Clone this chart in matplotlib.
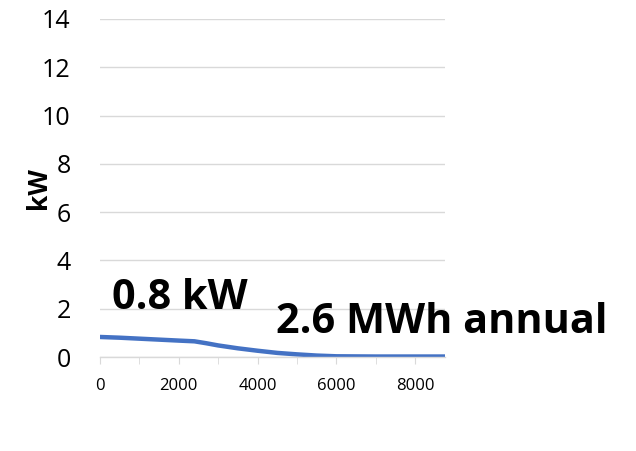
import matplotlib
matplotlib.use("Agg")
import matplotlib.pyplot as plt
from matplotlib.ticker import MultipleLocator

# Hourly load profile through the year (hour of year, kW)
hours = [0, 500, 1000, 1500, 2000, 2400, 2700, 3000, 3500, 4000, 4500, 5000, 5500, 6000, 7000, 8000, 8760]
load_kw = [0.83, 0.80, 0.76, 0.72, 0.68, 0.65, 0.57, 0.48, 0.36, 0.26, 0.17, 0.11, 0.06, 0.03, 0.02, 0.02, 0.02]

x_ticks = [0, 2000, 4000, 6000, 8000]
y_ticks = [0, 2, 4, 6, 8, 10, 12, 14]

peak_label = "0.8 kW"
annual_label = "2.6 MWh annual"
y_label = "kW"

plt.rcParams["font.family"] = ["Open Sans", "DejaVu Sans"]

fig = plt.figure(figsize=(6.36, 4.51), dpi=100)
ax = fig.add_axes([0.157, 0.2084, 0.543, 0.7496])

ax.plot(hours, load_kw, color="#4472C4", linewidth=3.2, solid_capstyle="butt")

ax.set_xlim(0, 8760)
ax.set_ylim(0, 14)
ax.set_xticks(x_ticks)
ax.xaxis.set_minor_locator(MultipleLocator(1000))
ax.set_yticks(y_ticks)

ax.grid(axis="y", color="#D9D9D9", linewidth=1.0)
ax.set_axisbelow(True)
for side in ("top", "right", "left"):
    ax.spines[side].set_visible(False)
ax.spines["bottom"].set_color("#D9D9D9")
ax.spines["bottom"].set_linewidth(1.0)

ax.tick_params(axis="y", length=0, labelsize=18, pad=21)
ax.tick_params(axis="x", which="both", length=5, color="#D9D9D9", direction="out",
               labelsize=12, pad=10)

ax.set_ylabel(y_label, fontsize=19, fontweight="bold", labelpad=-7)

ax.text(0.035, 0.141, peak_label, transform=ax.transAxes, fontsize=29.8,
        fontweight="bold", ha="left", va="baseline")
ax.text(0.51, 0.072, annual_label, transform=ax.transAxes, fontsize=29.8,
        fontweight="bold", ha="left", va="baseline", clip_on=False)

fig.savefig("out.png", dpi=100, facecolor="white")
